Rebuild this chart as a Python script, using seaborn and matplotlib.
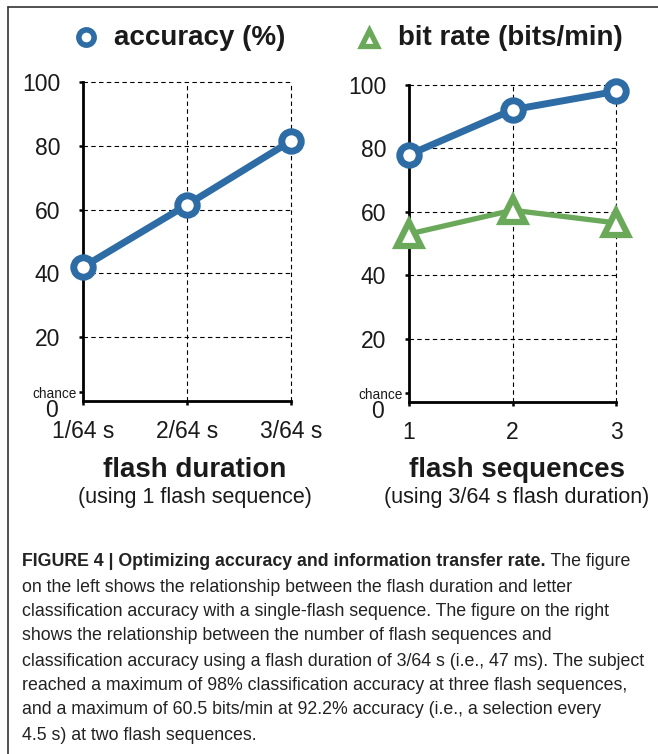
import numpy as np
import pandas as pd
import seaborn as sns
import matplotlib.pyplot as plt
from matplotlib.lines import Line2D
import matplotlib.transforms as mtransforms

# data
dur_labels = ['1/64 s', '2/64 s', '3/64 s']
dur_acc = [42.0, 61.5, 81.5]

seq_labels = ['1', '2', '3']
seq_acc = [78.0, 92.2, 98.0]
seq_bits = [53.0, 60.5, 56.5]

chance = 100 / 36
yticks = [20, 40, 60, 80, 100]

caption_bold = 'FIGURE 4 | Optimizing accuracy and information transfer rate.'
caption_lines = [
    ' The figure',
    'on the left shows the relationship between the flash duration and letter',
    'classification accuracy with a single-flash sequence. The figure on the right',
    'shows the relationship between the number of flash sequences and',
    'classification accuracy using a flash duration of 3/64 s (i.e., 47 ms). The subject',
    'reached a maximum of 98% classification accuracy at three flash sequences,',
    'and a maximum of 60.5 bits/min at 92.2% accuracy (i.e., a selection every',
    '4.5 s) at two flash sequences.',
]

BLUE = '#2d6ca4'
GREEN = '#6aa85a'
INK = '#1a1a1a'

sns.set_style('white')
plt.rcParams['font.family'] = ['Liberation Sans', 'DejaVu Sans']

W, H = 658, 754
fig = plt.figure(figsize=(W / 100, H / 100), dpi=100)


def px_axes(x0, y0, x1, y1):
    return fig.add_axes([x0 / W, 1 - y1 / H, (x1 - x0) / W, (y1 - y0) / H])


def style_axes(ax, labels):
    ax.set_xlim(1, 3)
    ax.set_ylim(0, 100)
    ax.set_xticks([1, 2, 3])
    ax.set_xticklabels(labels)
    ax.set_yticks(yticks)
    ax.set_yticklabels([str(v) for v in yticks])
    ax.set_yticks([chance], minor=True)
    ax.set_yticklabels(['chance'], minor=True)
    ax.tick_params(axis='both', which='both', direction='out', length=3,
                   width=1.8, color='black', labelcolor=INK,
                   left=True, bottom=True)
    ax.tick_params(axis='y', which='major', pad=13.5, labelsize=16.5)
    ax.tick_params(axis='y', which='minor', pad=1.2, labelsize=9.8)
    ax.tick_params(axis='x', which='major', pad=11, labelsize=16.5)
    for side in ['top', 'right']:
        ax.spines[side].set_visible(False)
    for side in ['left', 'bottom']:
        ax.spines[side].set_linewidth(2.0)
        ax.spines[side].set_color('black')
    for v in yticks:
        ax.axhline(v, color='black', lw=0.8, ls=(0, (4, 3)), zorder=1,
                   clip_on=False)
    for v in [2, 3]:
        ax.axvline(v, color='black', lw=0.8, ls=(0, (4, 3)), zorder=1,
                   clip_on=False)
    # the zero label sits a little below the axis
    trans = mtransforms.offset_copy(ax.get_yaxis_transform(), fig=fig,
                                    x=-18, y=-7, units='points')
    ax.text(0, 0, '0', transform=trans, ha='right', va='center',
            fontsize=16.5, color=INK)
    ax.set_xlabel('')
    ax.set_ylabel('')


acc_style = dict(color=BLUE, lw=5, marker='o', ms=14, mew=5,
                 mfc='white', mec=BLUE, clip_on=False, zorder=5)
bit_style = dict(color=GREEN, lw=3.8, marker='^', ms=17.5, mew=4.5,
                 mfc='white', mec=GREEN, clip_on=False, zorder=5)

# left panel: flash duration
ax1 = px_axes(83, 82, 291, 401)
df1 = pd.DataFrame({'x': [1, 2, 3], 'acc': dur_acc})
sns.lineplot(data=df1, x='x', y='acc', ax=ax1, **acc_style)
style_axes(ax1, dur_labels)

# right panel: flash sequences
ax2 = px_axes(409, 85, 616, 402)
df2 = pd.DataFrame({'x': [1, 2, 3], 'acc': seq_acc, 'bits': seq_bits})
sns.lineplot(data=df2, x='x', y='acc', ax=ax2, **acc_style)
sns.lineplot(data=df2, x='x', y='bits', ax=ax2, **bit_style)
style_axes(ax2, seq_labels)

# legend-like headers
fig.add_artist(Line2D([86 / W], [1 - 37 / H], marker='o', ms=11, mew=4,
                      mfc='white', mec=BLUE, ls='none'))
fig.text(114 / W, 1 - 38 / H, 'accuracy (%)', fontsize=20, fontweight='bold',
         ha='left', va='center', color=INK)
fig.add_artist(Line2D([369 / W], [1 - 38 / H], marker='^', ms=12, mew=3.8,
                      mfc='white', mec=GREEN, ls='none'))
fig.text(398 / W, 1 - 38 / H, 'bit rate (bits/min)', fontsize=20,
         fontweight='bold', ha='left', va='center', color=INK)

# axis titles
fig.text(195 / W, 1 - 470 / H, 'flash duration', fontsize=20,
         fontweight='bold', ha='center', va='center', color=INK)
fig.text(195 / W, 1 - 498 / H, '(using 1 flash sequence)', fontsize=15.5,
         ha='center', va='center', color=INK)
fig.text(517 / W, 1 - 470 / H, 'flash sequences', fontsize=20,
         fontweight='bold', ha='center', va='center', color=INK)
fig.text(517 / W, 1 - 498 / H, '(using 3/64 s flash duration)', fontsize=15.5,
         ha='center', va='center', color=INK)

# frame
fig.add_artist(Line2D([8 / W, 8 / W], [0, 1 - 7 / H], color='#333333', lw=1.2))
fig.add_artist(Line2D([8 / W, 1], [1 - 7 / H, 1 - 7 / H], color='#333333', lw=1.2))

# caption
cap_font = ['Liberation Sans', 'DejaVu Sans']
cap_size = 12.8
x0 = 22 / W
line_y = [562, 587, 611, 636, 661, 686, 710, 735]
bold = fig.text(x0, 1 - line_y[0] / H, caption_bold, fontsize=cap_size,
                fontweight='bold', family=cap_font, ha='left', va='center',
                color='#222222')
renderer = fig.canvas.get_renderer()
bb = bold.get_window_extent(renderer=renderer)
fig.text(bb.x1 / W, 1 - line_y[0] / H, caption_lines[0], fontsize=cap_size,
         family=cap_font, ha='left', va='center', color='#222222')
for txt, y in zip(caption_lines[1:], line_y[1:]):
    fig.text(x0, 1 - y / H, txt, fontsize=cap_size, family=cap_font,
             ha='left', va='center', color='#222222')

fig.savefig('out.png', dpi=100)
